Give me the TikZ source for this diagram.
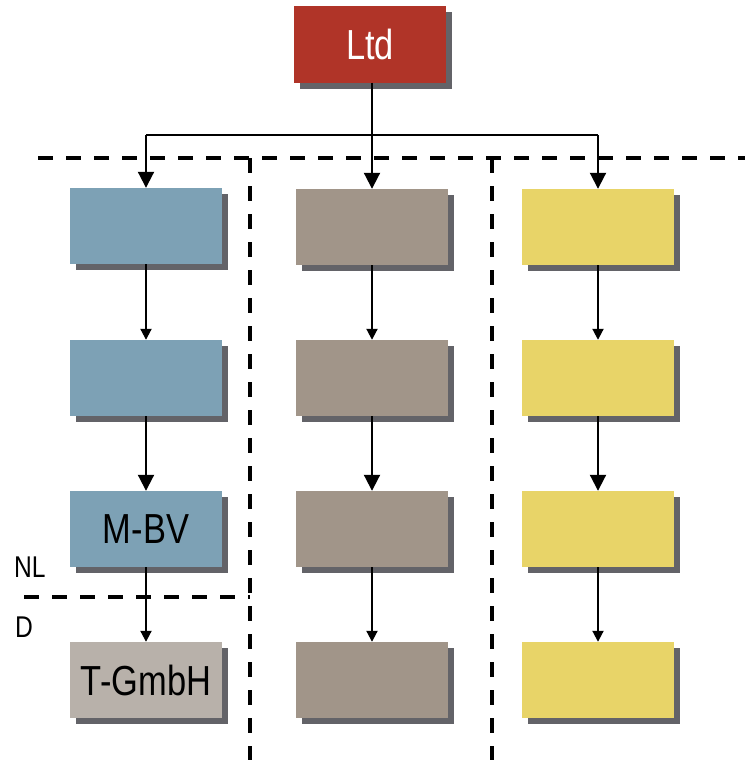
\documentclass[tikz,border=0pt]{standalone}
\usepackage{fontspec}
\setmainfont{Liberation Sans}
\newfontfamily\narrowfont[FakeStretch=0.82]{Liberation Sans}
\usetikzlibrary{arrows.meta,shadows}
\definecolor{ltdred}{RGB}{176,52,40}
\definecolor{cblue}{RGB}{125,161,181}
\definecolor{ctaupe}{RGB}{161,149,137}
\definecolor{cyellow}{RGB}{232,212,104}
\definecolor{clight}{RGB}{184,177,170}
\definecolor{cshadow}{RGB}{99,99,104}
\tikzset{
  boxbase/.style={rectangle, minimum width=152pt, minimum height=76pt, inner sep=0pt,
    drop shadow={shadow xshift=6pt, shadow yshift=-6pt, fill=cshadow, opacity=1},
    font=\narrowfont\fontsize{42}{48}\selectfont},
  redbox/.style={boxbase, fill=ltdred, text=white},
  bluebox/.style={boxbase, fill=cblue},
  taupebox/.style={boxbase, fill=ctaupe},
  yellowbox/.style={boxbase, fill=cyellow},
  lightbox/.style={boxbase, fill=clight},
  bigarrow/.style={line width=2pt, -{Triangle[width=16pt,length=16pt]}},
  smallarrow/.style={line width=2pt, -{Triangle[width=11pt,length=11pt]}},
  busline/.style={line width=1.6pt},
  sepline/.style={line width=4pt, dash pattern=on 15pt off 13pt},
  vsepline/.style={line width=3.5pt, dash pattern=on 15pt off 13pt},
  countrylabel/.style={anchor=base west, inner sep=0pt, font=\narrowfont\fontsize{30}{36}\selectfont}
}
\begin{document}
\begin{tikzpicture}[x=1pt,y=-1pt]
\useasboundingbox (0,0) rectangle (745,760);
% separators
\draw[sepline] (38,158) -- (745,158);
\draw[vsepline] (250,158) -- (250,760);
\draw[vsepline] (492,158) -- (492,760);
\draw[sepline] (24,597) -- (250,597);
% boxes
\node[redbox] (ltd) at (370,44.5) {Ltd};
\node[bluebox] (c1r1) at (146,226) {};
\node[bluebox] (c1r2) at (146,378) {};
\node[bluebox] (c1r3) at (146,529) {M-BV};
\node[lightbox] (c1r4) at (146,680) {T-GmbH};
\node[taupebox] (c2r1) at (372,227) {};
\node[taupebox] (c2r2) at (372,378) {};
\node[taupebox] (c2r3) at (372,529) {};
\node[taupebox] (c2r4) at (372,680) {};
\node[yellowbox] (c3r1) at (598,227) {};
\node[yellowbox] (c3r2) at (598,378) {};
\node[yellowbox] (c3r3) at (598,529) {};
\node[yellowbox] (c3r4) at (598,680) {};
% labels
\node[countrylabel] (nl) at (14,577) {NL};
\node[countrylabel] (de) at (15,637) {D};
% top connections
\coordinate (bus) at (372,135);
\draw[busline] (c1r1.north |- bus) -- (c3r1.north |- bus);
\draw[bigarrow] (c2r1.north |- ltd.south) -- (c2r1.north);
\draw[bigarrow] (c1r1.north |- bus) -- (c1r1.north);
\draw[bigarrow] (c3r1.north |- bus) -- (c3r1.north);
% column arrows
\foreach \c in {1,2,3}{
  \draw[smallarrow] (c\c r1.south) -- (c\c r2.north);
  \draw[bigarrow] (c\c r2.south) -- (c\c r3.north);
  \draw[smallarrow] (c\c r3.south) -- (c\c r4.north);
}
\end{tikzpicture}
\end{document}
